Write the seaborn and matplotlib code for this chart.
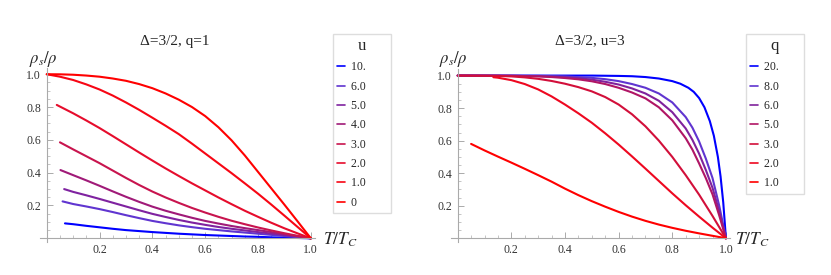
import matplotlib
matplotlib.use('Agg')
import matplotlib.pyplot as plt
import pandas as pd
import seaborn as sns
from matplotlib.ticker import MultipleLocator

# left panel: Delta=3/2, q=1, one curve per u
u_labels = ['10.', '6.0', '5.0', '4.0', '3.0', '2.0', '1.0', '0']
u_colors = ['#0000ff', '#6035d0', '#7f22a0', '#a01a78', '#c8144e', '#e60c2c', '#f70614', '#ff0000']
T_grid = [0.1, 0.15, 0.2, 0.25, 0.3, 0.35, 0.4, 0.45, 0.5, 0.55,
          0.6, 0.65, 0.7, 0.75, 0.8, 0.85, 0.9, 0.95, 1.0]
T_u10 = [0.069] + T_grid
rho_u10 = [0.091, 0.086, 0.076, 0.067, 0.058, 0.050, 0.044, 0.038, 0.033, 0.028, 0.024,
           0.020, 0.017, 0.014, 0.011, 0.009, 0.006, 0.004, 0.002, 0.0]
T_u6 = [0.06] + T_grid
rho_u6 = [0.225, 0.209, 0.194, 0.178, 0.160, 0.141, 0.123, 0.106, 0.092, 0.079, 0.068,
          0.058, 0.050, 0.042, 0.035, 0.028, 0.021, 0.014, 0.007, 0.0]
T_u5 = [0.066] + T_grid
rho_u5 = [0.300, 0.283, 0.262, 0.240, 0.217, 0.194, 0.171, 0.149, 0.130, 0.112, 0.096,
          0.082, 0.069, 0.058, 0.048, 0.038, 0.029, 0.020, 0.010, 0.0]
T_u4 = [0.052] + T_grid
rho_u4 = [0.416, 0.385, 0.353, 0.320, 0.286, 0.253, 0.222, 0.193, 0.168, 0.146, 0.125,
          0.106, 0.090, 0.075, 0.062, 0.050, 0.038, 0.025, 0.013, 0.0]
T_u3 = [0.05] + T_grid
rho_u3 = [0.585, 0.542, 0.500, 0.458, 0.413, 0.368, 0.325, 0.285, 0.249, 0.216, 0.185,
          0.157, 0.131, 0.107, 0.086, 0.066, 0.048, 0.031, 0.015, 0.0]
T_u2 = [0.038, 0.05] + T_grid
rho_u2 = [0.813, 0.803, 0.762, 0.718, 0.672, 0.623, 0.573, 0.523, 0.474, 0.426, 0.380, 0.335,
          0.292, 0.249, 0.208, 0.168, 0.131, 0.095, 0.061, 0.030, 0.0]
T_u1 = [0.0, 0.05] + T_grid
rho_u1 = [1.0, 0.985, 0.965, 0.938, 0.907, 0.870, 0.828, 0.783, 0.735, 0.686, 0.635, 0.577,
          0.517, 0.457, 0.397, 0.335, 0.272, 0.206, 0.138, 0.069, 0.0]
T_u0 = [0.0, 0.05] + T_grid
rho_u0 = [1.0, 0.9995, 0.997, 0.992, 0.985, 0.974, 0.960, 0.940, 0.915, 0.883, 0.845, 0.800,
          0.745, 0.677, 0.597, 0.505, 0.405, 0.305, 0.205, 0.103, 0.0]

# right panel: Delta=3/2, u=3, one curve per q
q_labels = ['20.', '8.0', '6.0', '5.0', '3.0', '2.0', '1.0']
q_colors = ['#0000ff', '#6035d0', '#80229c', '#b01565', '#d20f3a', '#ee0820', '#ff0000']
T_q20 = [0.0, 0.5, 0.6, 0.65, 0.7, 0.75, 0.8, 0.83, 0.86, 0.88, 0.9, 0.92, 0.94, 0.955,
         0.97, 0.98, 0.99, 1.0]
rho_q20 = [1.0, 1.0, 0.998, 0.996, 0.991, 0.982, 0.966, 0.950, 0.925, 0.900, 0.862, 0.805,
           0.720, 0.630, 0.500, 0.380, 0.220, 0.0]
T_q8 = [0.0, 0.3, 0.4, 0.5, 0.55, 0.6, 0.65, 0.7, 0.75, 0.8, 0.85, 0.875, 0.9, 0.925,
        0.95, 0.975, 1.0]
rho_q8 = [1.0, 0.998, 0.995, 0.986, 0.978, 0.966, 0.948, 0.925, 0.890, 0.835, 0.745, 0.680,
          0.595, 0.490, 0.370, 0.200, 0.0]
T_q6 = [0.0, 0.3, 0.4, 0.45, 0.5, 0.55, 0.6, 0.65, 0.7, 0.75, 0.8, 0.85, 0.875, 0.9,
        0.925, 0.95, 0.975, 1.0]
rho_q6 = [1.0, 0.997, 0.990, 0.984, 0.975, 0.962, 0.945, 0.921, 0.890, 0.845, 0.775, 0.675,
          0.605, 0.520, 0.420, 0.310, 0.165, 0.0]
T_q5 = [0.0, 0.2, 0.3, 0.35, 0.4, 0.45, 0.5, 0.55, 0.6, 0.65, 0.7, 0.75, 0.8, 0.85,
        0.875, 0.9, 0.925, 0.95, 0.975, 1.0]
rho_q5 = [1.0, 0.999, 0.995, 0.991, 0.985, 0.977, 0.965, 0.948, 0.925, 0.896, 0.860, 0.805,
          0.725, 0.615, 0.545, 0.460, 0.370, 0.270, 0.140, 0.0]
T_q3 = [0.0, 0.1, 0.15, 0.2, 0.25, 0.3, 0.35, 0.4, 0.45, 0.5, 0.55, 0.6, 0.65, 0.7,
        0.75, 0.8, 0.85, 0.9, 0.95, 1.0]
rho_q3 = [1.0, 0.999, 0.998, 0.995, 0.989, 0.980, 0.967, 0.950, 0.929, 0.903, 0.868, 0.822,
          0.762, 0.688, 0.600, 0.500, 0.388, 0.268, 0.137, 0.0]
T_q2 = [0.133, 0.15] + T_grid[2:]
rho_q2 = [0.990, 0.987, 0.972, 0.948, 0.915, 0.872, 0.822, 0.768, 0.710, 0.645, 0.576,
          0.503, 0.428, 0.352, 0.276, 0.203, 0.133, 0.065, 0.0]
T_q1 = [0.05] + T_grid
rho_q1 = [0.580, 0.540, 0.502, 0.465, 0.427, 0.388, 0.348, 0.305, 0.265, 0.228, 0.194,
          0.162, 0.133, 0.107, 0.084, 0.064, 0.046, 0.030, 0.015, 0.0]

left_T = [T_u10, T_u6, T_u5, T_u4, T_u3, T_u2, T_u1, T_u0]
left_rho = [rho_u10, rho_u6, rho_u5, rho_u4, rho_u3, rho_u2, rho_u1, rho_u0]
right_T = [T_q20, T_q8, T_q6, T_q5, T_q3, T_q2, T_q1]
right_rho = [rho_q20, rho_q8, rho_q6, rho_q5, rho_q3, rho_q2, rho_q1]


def long_frame(labels, Ts, rhos, key):
    rows = []
    for lab, tt, rr in zip(labels, Ts, rhos):
        for t, r in zip(tt, rr):
            rows.append({'T': t, 'rho': r, key: lab})
    return pd.DataFrame(rows)


sns.set_style('white')
plt.rcParams['font.family'] = ['Liberation Serif', 'DejaVu Serif']
plt.rcParams['mathtext.fontset'] = 'stix'

fig = plt.figure(figsize=(8.31, 2.75), dpi=100)
ax1 = fig.add_axes([0.0483, 0.1215, 0.3305, 0.6324])
ax2 = fig.add_axes([0.5427, 0.1218, 0.3357, 0.6270])

panels = [
    (ax1, long_frame(u_labels, left_T, left_rho, 'u'), 'u', u_labels, u_colors,
     'Δ=3/2, q=1', 175, 29, 323, (333, 34)),
    (ax2, long_frame(q_labels, right_T, right_rho, 'q'), 'q', q_labels, q_colors,
     'Δ=3/2, u=3', 590, 439, 735, (746, 34)),
]

for ax, df, key, labels, colors, title, tx, rx, Tx, leg_xy in panels:
    sns.lineplot(data=df, x='T', y='rho', hue=key, hue_order=labels,
                 palette=dict(zip(labels, colors)), sort=False, estimator=None,
                 linewidth=1.5, ax=ax)
    ax.set_xlim(-0.025, 1.015)
    ax.set_ylim(-0.02, 1.04)
    for s in ['top', 'right']:
        ax.spines[s].set_visible(False)
    for s in ['left', 'bottom']:
        ax.spines[s].set_position(('data', 0))
        ax.spines[s].set_color('#aaaaaa')
        ax.spines[s].set_linewidth(0.8)
    ax.set_xticks([0.2, 0.4, 0.6, 0.8, 1.0])
    ax.set_yticks([0.2, 0.4, 0.6, 0.8, 1.0])
    ax.set_xticklabels(['0.2', '0.4', '0.6', '0.8', '1.0'])
    ax.set_yticklabels(['0.2', '0.4', '0.6', '0.8', '1.0'])
    ax.xaxis.set_minor_locator(MultipleLocator(0.05))
    ax.yaxis.set_minor_locator(MultipleLocator(0.05))
    ax.tick_params(which='major', direction='in', length=4, width=0.7, color='#aaaaaa',
                   labelsize=8.5, labelcolor='#333333', pad=4)
    ax.tick_params(which='minor', direction='in', length=2, width=0.6, color='#bbbbbb')
    ax.tick_params(bottom=True, left=True, which='both')
    ax.set_xlabel('')
    ax.set_ylabel('')

    sns.move_legend(ax, 'upper left', bbox_to_anchor=(leg_xy[0] / 831, 1 - leg_xy[1] / 275),
                    bbox_transform=fig.transFigure, title=key, fontsize=8.5,
                    title_fontsize=12, handlelength=0.7, handletextpad=0.45,
                    labelspacing=0.62, borderpad=0.35, borderaxespad=0,
                    frameon=True, fancybox=False, framealpha=1, edgecolor='#dddddd')
    leg = ax.get_legend()
    for line in leg.get_lines():
        line.set_linewidth(1.2)
    # the frame in the original leaves blank room right of the labels
    for txt in leg.get_texts():
        txt.set_text(txt.get_text() + '       ')

    fig.text(tx / 831, 1 - 41 / 275, title, ha='center', va='center', fontsize=11)
    fig.text(rx / 831, 1 - 59 / 275, r'$\rho_s/\rho$', ha='left', va='center', fontsize=12)
    fig.text(Tx / 831, 1 - 240 / 275, r'$T/T_C$', ha='left', va='center', fontsize=12.5)

fig.savefig('out.png', dpi=100, facecolor='white')
